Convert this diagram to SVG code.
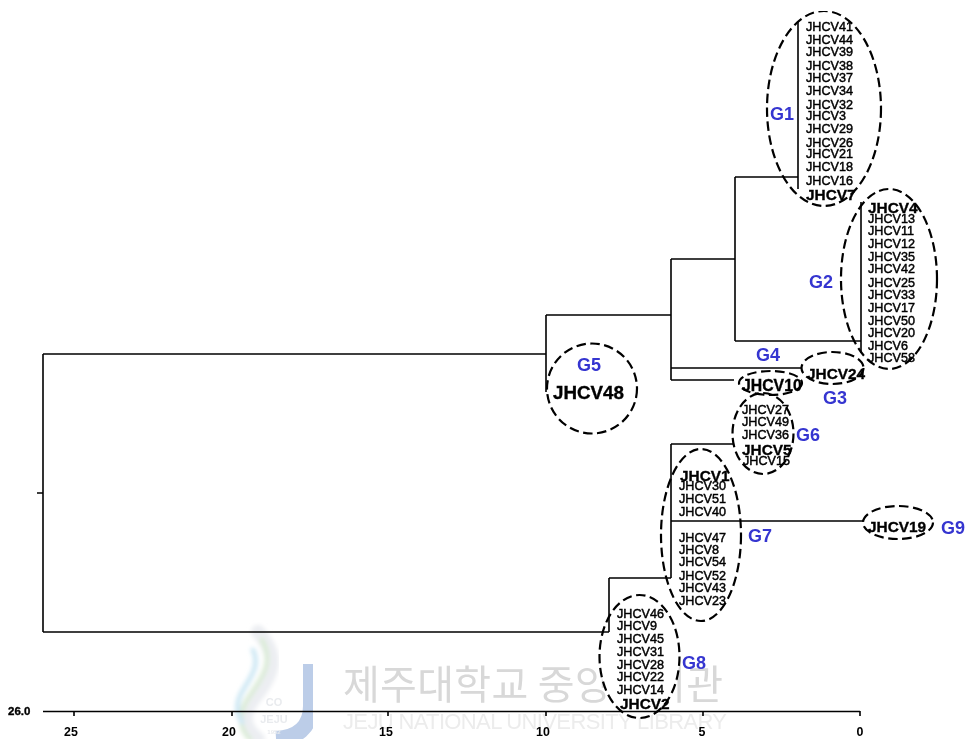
<svg xmlns="http://www.w3.org/2000/svg" width="969" height="739" viewBox="0 0 969 739">
<style>
text{font-family:"Liberation Sans",Arial,"Noto Sans CJK KR",sans-serif}
.n{font-size:12.6px;fill:#000;stroke:#000;stroke-width:.45}
.b{font-weight:bold;fill:#000;stroke:#000;stroke-width:.35}
.g{font-size:18px;font-weight:bold;fill:#3535d0}
.t{font-size:12.4px;font-weight:bold;text-anchor:middle;fill:#000}
.o{fill:none;stroke:#000;stroke-width:2.2;stroke-dasharray:9.5 4.5}
#connectors path,#axis path{fill:none;stroke:#000;stroke-width:1.6}
.wk{font-family:"Noto Sans CJK KR","Liberation Sans",sans-serif;font-size:40px;fill:#d8d8d8}
.we{font-size:22px;fill:#ececec}
.wl{fill:#e9ebee;font-weight:bold;text-anchor:middle}
</style>
<defs>
<filter id="bl" x="-20%" y="-20%" width="140%" height="140%"><feGaussianBlur stdDeviation="2"/></filter>
<filter id="soft" x="0" y="0" width="100%" height="100%"><feGaussianBlur stdDeviation="0.35"/></filter>
<filter id="wm" x="-5%" y="-5%" width="110%" height="110%"><feGaussianBlur stdDeviation="0.6"/></filter>
</defs>
<rect width="969" height="739" fill="#fff"/>
<g id="watermark">
<g filter="url(#bl)" fill="none" stroke-linecap="round">
<path d="M258 632C284 660 268 680 253 700C240 716 246 730 258 739" stroke="#eceef2" stroke-width="14"/>
<path d="M262 640C276 665 258 682 247 700C238 716 240 730 250 739" stroke="#dcecd8" stroke-width="5"/>
<path d="M253 650C262 668 246 682 240 696C235 708 238 716 242 722" stroke="#cfe8f4" stroke-width="5"/>
</g>
<path d="M311 664V706C311 728 296 738 276 739" fill="none" stroke="#bccde8" stroke-width="16" filter="url(#wm)"/>
<g filter="url(#wm)">
<text class="wl" x="274" y="706" font-size="11">CO</text>
<text class="wl" x="274" y="723" font-size="11">JEJU</text>
<text class="wl" x="274" y="734" font-size="6">1952</text>
<text class="wk" x="343" y="699" textLength="380">제주대학교 중앙도서관</text>
<text class="we" x="343" y="729" textLength="384">JEJU NATIONAL UNIVERSITY LIBRARY</text>
</g>
</g>
<ellipse cx="639.5" cy="656.5" rx="40" ry="61.5" fill="#fff"/>
<g filter="url(#soft)">
<g id="connectors">
<path d="M37 493H43M43 354V632M43 354H546M546 315V392M546 315H671M671 259V380M671 259H735M671 368H802M671 380H734"/>
<path d="M735 177V341M735 177H798M798 22V189M735 341H861M861 202V353"/>
<path d="M43 632H609M609 578V632M609 578H671M671 444V578M671 444H733M671 521H863"/>
</g>
<g id="axis">
<path d="M43 711.5H860M74 711V716M232 711V716M388 711V716M546 711V716M703 711V716M860 711V716"/>
<text x="8" y="715" class="b" font-size="11.5">26.0</text>
<text class="t" x="71" y="736">25</text><text class="t" x="229" y="736">20</text><text class="t" x="386" y="736">15</text><text class="t" x="543" y="736">10</text><text class="t" x="702" y="736">5</text><text class="t" x="860" y="736">0</text>
</g>
<g id="G1">
<ellipse class="o" cx="824" cy="108.5" rx="57" ry="97.5"/>
<text class="g" x="770" y="120">G1</text>
<text class="n" x="806" y="31">JHCV41</text><text class="n" x="806" y="44">JHCV44</text><text class="n" x="806" y="56">JHCV39</text><text class="n" x="806" y="70">JHCV38</text><text class="n" x="806" y="82">JHCV37</text><text class="n" x="806" y="95">JHCV34</text><text class="n" x="806" y="109">JHCV32</text><text class="n" x="806" y="120">JHCV3</text><text class="n" x="806" y="133">JHCV29</text><text class="n" x="806" y="147">JHCV26</text><text class="n" x="806" y="158">JHCV21</text><text class="n" x="806" y="171">JHCV18</text><text class="n" x="806" y="185">JHCV16</text>
<text class="b" x="806" y="200" font-size="15.4">JHCV7</text>
</g>
<g id="G2">
<ellipse class="o" cx="889" cy="279" rx="48" ry="90"/>
<text class="g" x="809" y="288">G2</text>
<text class="b" x="868" y="213" font-size="15.4">JHCV4</text>
<text class="n" x="868" y="223">JHCV13</text><text class="n" x="868" y="235">JHCV11</text><text class="n" x="868" y="248">JHCV12</text><text class="n" x="868" y="261">JHCV35</text><text class="n" x="868" y="273">JHCV42</text><text class="n" x="868" y="287">JHCV25</text><text class="n" x="868" y="299">JHCV33</text><text class="n" x="868" y="312">JHCV17</text><text class="n" x="868" y="325">JHCV50</text><text class="n" x="868" y="337">JHCV20</text><text class="n" x="868" y="350">JHCV6</text><text class="n" x="868" y="362">JHCV58</text>
</g>
<g id="G3">
<ellipse class="o" cx="832.5" cy="368" rx="31" ry="16"/>
<text class="g" x="823" y="404">G3</text>
<text class="b" x="807" y="379" font-size="15.4">JHCV24</text>
</g>
<g id="G4">
<ellipse class="o" cx="770.5" cy="383" rx="31.5" ry="12"/>
<text class="g" x="756" y="361">G4</text>
<text class="b" x="742" y="391" font-size="15.8">JHCV10</text>
</g>
<g id="G5">
<ellipse class="o" cx="592" cy="388.5" rx="45" ry="45"/>
<text class="g" x="577" y="371">G5</text>
<text class="b" x="553" y="399" font-size="18.8">JHCV48</text>
</g>
<g id="G6">
<ellipse class="o" cx="763" cy="433.5" rx="30.5" ry="40.5"/>
<text class="g" x="796" y="441">G6</text>
<text class="n" x="742" y="414">JHCV27</text><text class="n" x="742" y="426">JHCV49</text><text class="n" x="742" y="439">JHCV36</text>
<text class="b" x="742" y="455" font-size="15.4">JHCV5</text>
<text class="n" x="743" y="465">JHCV15</text>
</g>
<g id="G7">
<ellipse class="o" cx="701" cy="535" rx="40" ry="86"/>
<text class="g" x="748" y="542">G7</text>
<text class="b" x="680" y="481" font-size="15.4">JHCV1</text>
<text class="n" x="679" y="490">JHCV30</text><text class="n" x="679" y="503">JHCV51</text><text class="n" x="679" y="516">JHCV40</text><text class="n" x="679" y="542">JHCV47</text><text class="n" x="679" y="554">JHCV8</text><text class="n" x="679" y="566">JHCV54</text><text class="n" x="679" y="580">JHCV52</text><text class="n" x="679" y="592">JHCV43</text><text class="n" x="679" y="605">JHCV23</text>
</g>
<g id="G8">
<ellipse class="o" cx="639.5" cy="656.5" rx="40" ry="61.5"/>
<text class="g" x="682" y="669">G8</text>
<text class="n" x="617" y="618">JHCV46</text><text class="n" x="617" y="630">JHCV9</text><text class="n" x="617" y="643">JHCV45</text><text class="n" x="617" y="656">JHCV31</text><text class="n" x="617" y="669">JHCV28</text><text class="n" x="617" y="681">JHCV22</text><text class="n" x="617" y="694">JHCV14</text>
<text class="b" x="620" y="709" font-size="15.4">JHCV2</text>
</g>
<g id="G9">
<ellipse class="o" cx="898" cy="522.5" rx="35" ry="16.5"/>
<text class="g" x="941" y="534">G9</text>
<text class="b" x="868" y="532" font-size="15.4">JHCV19</text>
</g>
</g>
</svg>
